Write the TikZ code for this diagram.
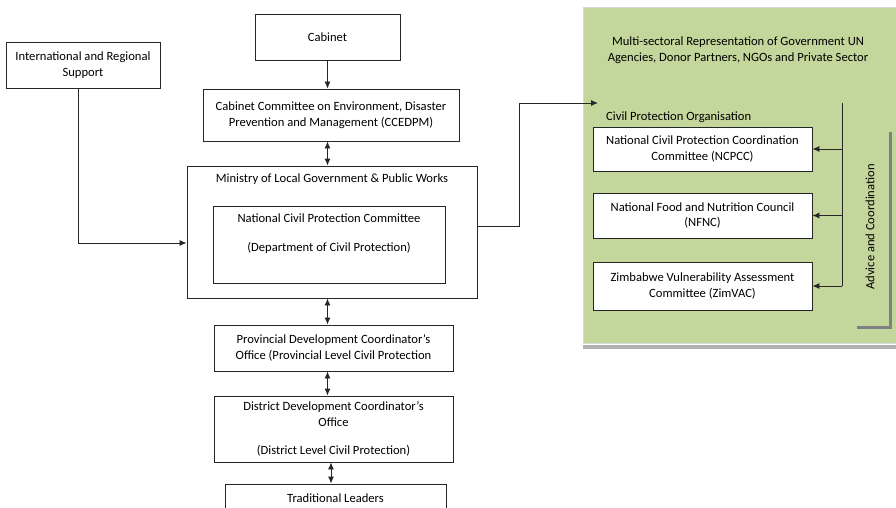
\documentclass[tikz,border=0pt]{standalone}
\usepackage{fontspec}
\setmainfont{Carlito}
\usepackage{xcolor}
\usetikzlibrary{arrows.meta,positioning}

\definecolor{panelgreen}{RGB}{195,214,155}
\definecolor{edgecol}{RGB}{38,38,38}
\newcommand{\dfont}{\fontsize{12.6}{15.5}\selectfont}

\tikzset{
  box/.style={draw=edgecol, line width=0.9pt, fill=white, align=center,
    inner sep=0pt, font=\dfont},
  link/.style={draw=edgecol, line width=0.9pt},
}

\begin{document}
\begin{tikzpicture}[x=1pt,y=-1pt,>={Latex[length=7pt,width=6pt]},font=\dfont]
  \useasboundingbox (0,0) rectangle (896,508);

  % panel on the right
  \fill[black!30] (583,345) rectangle (900,349);
  \draw[black!15, fill=panelgreen] (583,7) rectangle (900,343);
  \node[align=center] (multi) at (738,50)
    {Multi-sectoral Representation of Government UN\\Agencies, Donor Partners, NGOs and Private Sector};
  \node[anchor=west, inner sep=0pt] (cpolabel) at (606,117) {Civil Protection Organisation};
  \coordinate (cpo) at (598,103);
  \coordinate (sptop) at (842,103);

  % Node: ncpcc
  \node[box, minimum width=219, minimum height=44] (ncpcc) at (702.5,149)
    {National Civil Protection Coordination\\Committee (NCPCC)};
  % Node: nfnc
  \node[box, minimum width=219, minimum height=45] (nfnc) at (702.5,215.5)
    {National Food and Nutrition Council\\(NFNC)};
  % Node: zimvac
  \node[box, minimum width=219, minimum height=48] (zimvac) at (702.5,286)
    {Zimbabwe Vulnerability Assessment\\Committee (ZimVAC)};

  \node[rotate=90] (advice) at (870,227) {Advice and Coordination};
  \draw[black!50, line width=3pt] (890,132) -- (890,327) -- (857,327);

  % Node: cab
  \node[box, minimum width=145, minimum height=46] (cab) at (327.5,37) {Cabinet};
  % Node: ccedpm
  \node[box, minimum width=256, minimum height=52] (ccedpm) at (331,115)
    {Cabinet Committee on Environment, Disaster\\Prevention and Management (CCEDPM)};
  % Node: minlg
  \node[box, minimum width=290, minimum height=132,
    label={[anchor=north, yshift=-5pt, font=\dfont]north:Ministry of Local Government \& Public Works}]
    (minlg) at (332,232) {};
  % Node: ncpc
  \node[box, minimum width=232, minimum height=77,
    label={[anchor=north, align=center, yshift=-5pt, font=\dfont]north:National Civil Protection Committee\\[13pt](Department of Civil Protection)}]
    (ncpc) at (329,244.5) {};
  % Node: intl
  \node[box, minimum width=154, minimum height=46] (intl) at (83,65)
    {International and Regional\\Support};
  % Node: prov
  \node[box, minimum width=239, minimum height=46] (prov) at (333.5,348)
    {Provincial Development Coordinator's\\Office (Provincial Level Civil Protection};
  % Node: dist
  \node[box, minimum width=239, minimum height=66] (dist) at (333.5,429)
    {District Development Coordinator's\\Office\\[13pt](District Level Civil Protection)};
  % Node: trad
  \node[box, minimum width=221, minimum height=28] (trad) at (335.5,498) {Traditional Leaders};

  % Edges
  \draw[link, ->] (cab.south) -- (cab.south |- ccedpm.north);
  \draw[link, <->] (cab.south |- ccedpm.south) -- (cab.south |- minlg.north);
  \draw[link, <->] (cab.south |- minlg.south) -- (cab.south |- prov.north);
  \draw[link, <->] (cab.south |- prov.south) -- (cab.south |- dist.north);
  \draw[link, <->] ([xshift=-4.5pt]trad.north |- dist.south) -- ([xshift=-4.5pt]trad.north);
  \draw[link, ->] ([xshift=-5pt]intl.south) |- ([yshift=-11pt]minlg.west);
  \draw[link, ->] ([yshift=6pt]minlg.east) -- ++(42,0) |- (cpo);
  \draw[link] (sptop) -- (sptop |- zimvac.east);
  \foreach \b in {ncpcc,nfnc,zimvac}
    \draw[link, ->] (sptop |- \b.east) -- (\b.east);
\end{tikzpicture}
\end{document}
